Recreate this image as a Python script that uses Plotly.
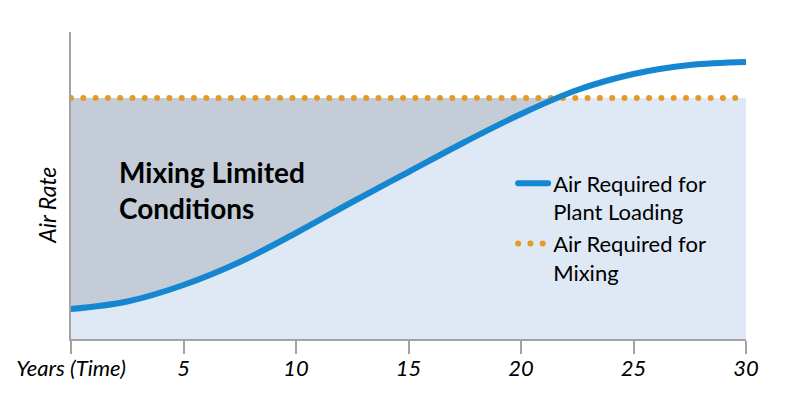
import plotly.graph_objects as go

years = [0, 2.5, 5, 7.5, 10, 12.5, 15, 17.5, 20, 22.5, 25, 27.5, 30]
air_loading = [30, 37.5, 54, 77, 106, 137, 167, 197, 225, 249, 265, 274, 277]
air_mixing = [241] * len(years)
y_top = [307] * len(years)

tick_vals = [0, 5, 10, 15, 20, 25, 30]
tick_text = ["Years (Time)", "5", "10", "15", "20", "25", "30"]

blue = "#1487d0"
orange = "#e39a27"
gray_fill = "#c4ccd7"
light_fill = "#dfe9f5"
axis_gray = "#a3a3a3"
font = "Lato, 'Open Sans', sans-serif"

fig = go.Figure()

# light blue band up to the mixing level
fig.add_trace(go.Scatter(x=years, y=air_mixing, mode="lines", line=dict(width=0),
                         fill="tozeroy", fillcolor=light_fill,
                         showlegend=False, hoverinfo="skip"))
# gray between loading curve and mixing level
fig.add_trace(go.Scatter(x=years, y=air_loading, mode="lines",
                         line=dict(width=0, shape="spline"),
                         fill="tonexty", fillcolor=gray_fill,
                         showlegend=False, hoverinfo="skip"))
# white cover above mixing level
fig.add_trace(go.Scatter(x=years, y=air_mixing, mode="lines", line=dict(width=0),
                         showlegend=False, hoverinfo="skip"))
fig.add_trace(go.Scatter(x=years, y=y_top, mode="lines", line=dict(width=0),
                         fill="tonexty", fillcolor="white",
                         showlegend=False, hoverinfo="skip"))

# dotted line sits under the curve
fig.add_trace(go.Scatter(x=years, y=air_mixing, mode="lines",
                         name="Air Required for<br>Mixing",
                         line=dict(color=orange, width=6, dash="0px,12.3px")))
fig.add_trace(go.Scatter(x=years, y=air_loading, mode="lines",
                         name="Air Required for<br>Plant Loading",
                         line=dict(color=blue, width=6, shape="spline")))

fig.add_annotation(text="<b>Mixing Limited<br>Conditions</b>", xref="paper", yref="paper",
                   x=0.068, y=0.485, xanchor="left", yanchor="middle", align="left",
                   showarrow=False, font=dict(family=font, size=28, color="black"))
fig.add_annotation(text="Air Rate", xref="paper", yref="paper",
                   x=-0.036, y=0.436, xanchor="center", yanchor="middle", textangle=-90,
                   showarrow=False,
                   font=dict(family=font, size=23, color="black", style="italic"))

fig.update_xaxes(range=[0, 30], tickvals=tick_vals, ticktext=tick_text,
                 ticks="outside", ticklen=13, tickcolor=axis_gray, tickwidth=2,
                 showline=True, linecolor=axis_gray, linewidth=2, showgrid=False,
                 zeroline=False, automargin=False,
                 tickfont=dict(family=font, size=22, color="black", style="italic"),
                 ticklabelstandoff=-4)
fig.update_yaxes(range=[0, 307], showticklabels=False, ticks="",
                 showline=True, linecolor=axis_gray, linewidth=2, showgrid=False,
                 zeroline=False, automargin=False)

fig.update_layout(
    width=800, height=408,
    margin=dict(l=71, r=54, t=32, b=69, autoexpand=False),
    plot_bgcolor="white", paper_bgcolor="white",
    showlegend=True,
    legend=dict(x=0.655, y=0.575, xanchor="left", yanchor="top", valign="top",
                traceorder="reversed",
                bgcolor="rgba(0,0,0,0)", font=dict(family=font, size=22, color="black"),
                itemwidth=30),
)

post = """
document.body.style.margin = '0';
document.querySelectorAll('path.js-line').forEach(function(p){p.style.strokeLinecap='round';});
"""
fig.write_html("out.html", post_script=post, config={"displayModeBar": False})
